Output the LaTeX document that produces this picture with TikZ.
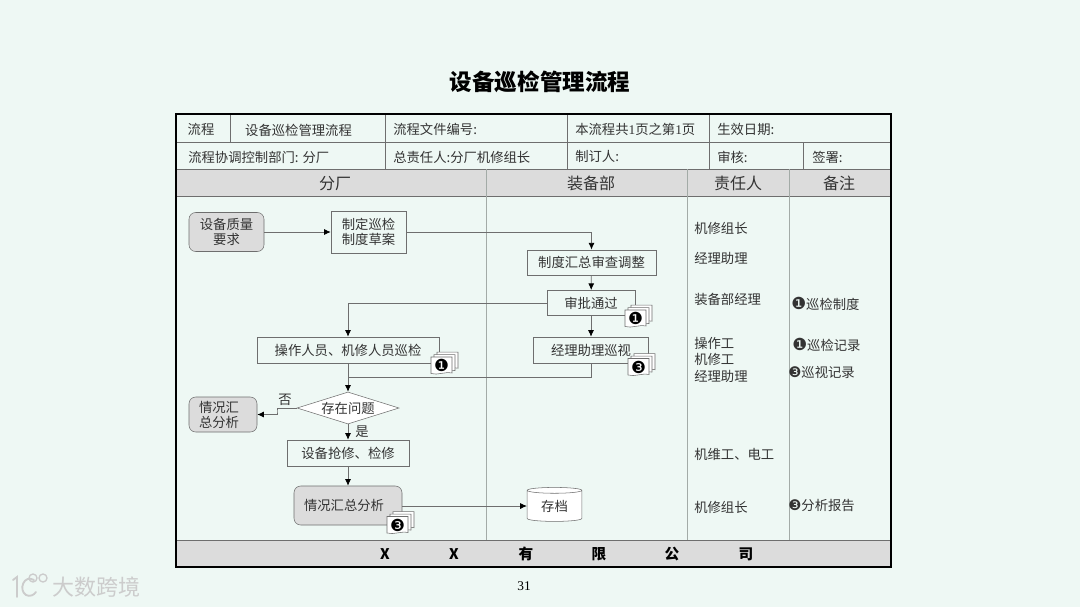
\documentclass[tikz,border=0pt]{standalone}
\usepackage{fontspec}
\usetikzlibrary{calc,positioning,arrows.meta,shapes.geometric}
\setmainfont{Noto Sans CJK SC}
\newfontfamily\latinfont{Liberation Serif}
\newfontfamily\dingfont{DejaVu Sans}
\definecolor{pagebg}{HTML}{EEF8F4}
\definecolor{bandgray}{HTML}{DCDCDC}
\definecolor{boxline}{HTML}{6E6E6E}
\definecolor{colline}{HTML}{A3ABA7}
\definecolor{inkgray}{HTML}{333333}
\newcommand{\one}{{\dingfont\fontsize{12.5}{12}\selectfont ❶}}
\newcommand{\three}{{\dingfont\fontsize{11}{12}\selectfont ❸}}
\newcommand{\bigthree}{{\dingfont\fontsize{12.5}{12}\selectfont ❸}}
% stack of three sheets, #1 name, #2 top left corner, #3 mark
\newcommand{\docstack}[3]{
    \begin{scope}[shift={#2}]
        \foreach \d in {6,3,0}{
            \draw[boxline,fill=white,xshift=0.75*\d pt,yshift=0.6*\d pt]
                (0,0) -- (0,16.5) .. controls (7,18.5) and (13,14.5) .. (21,16) -- (21,0) -- cycle;
        }
        \node[textonly,text=black] (#1) at (10.5,8.5) {#3};
    \end{scope}
}
\tikzset{
    textonly/.style={inner sep=0pt,text=inkgray,font=\fontsize{10}{11.5}\selectfont},
    lefttext/.style={textonly,anchor=west},
    headtext/.style={textonly,font=\fontsize{12}{13}\selectfont},
    foottext/.style={textonly,text=black,font=\fontsize{11}{13}\bfseries\selectfont},
    flowbox/.style={draw=boxline,fill=pagebg,rectangle,inner sep=0pt,align=center,text=inkgray,
        font=\fontsize{10}{11.2}\selectfont},
    roundbox/.style={flowbox,fill=bandgray,rounded corners=5pt},
    flowline/.style={draw=boxline,line width=0.6pt,-{Latex[length=5pt,width=4.5pt,black]}},
    plainline/.style={draw=boxline,line width=0.6pt},
    cellline/.style={draw=boxline,line width=0.6pt},
}
\begin{document}
\begin{tikzpicture}[x=0.75pt,y=-0.75pt]
    \useasboundingbox (0,0) rectangle (1080,607);
    \fill[pagebg] (0,0) rectangle (1080,607);
    \node[textonly,text=black,font=\fontsize{16.9}{20}\bfseries\selectfont] (title) at (540,81.5) {设备巡检管理流程};

    % bands and table
    \fill[bandgray] (176,169) rectangle (891,196);
    \fill[bandgray] (176,540) rectangle (891,567);
    \draw[cellline] (176,142.5) -- (891,142.5);
    \draw[cellline] (176,169) -- (891,169);
    \draw[cellline] (176,196) -- (891,196);
    \draw[cellline] (176,540) -- (891,540);
    \draw[cellline] (230,114) -- (230,142.5);
    \draw[cellline] (385,114) -- (385,169);
    \draw[cellline] (567.5,114) -- (567.5,169);
    \draw[cellline] (709,114) -- (709,169);
    \draw[cellline] (803,142.5) -- (803,169);
    \foreach \x in {486.5,687.5,789}{
        \draw[colline,line width=0.7pt] (\x,169) -- (\x,540);
    }
    \draw[black,line width=2.2pt] (176,114) rectangle (891,567);

    \node[textonly] (t1) at (201,129) {流程};
    \node[textonly] (t2) at (298.5,130) {设备巡检管理流程};
    \node[lefttext] (t3) at (393,129) {流程文件编号:};
    \node[lefttext] (t4) at (575,129.5) {本流程共{\latinfont 1}页之第{\latinfont 1}页};
    \node[lefttext] (t5) at (717,129) {生效日期:};
    \node[lefttext] (t6) at (188,157) {流程协调控制部门: 分厂};
    \node[lefttext] (t7) at (393,157.5) {总责任人:分厂机修组长};
    \node[lefttext] (t8) at (575,156) {制订人:};
    \node[lefttext] (t9) at (717,157.5) {审核:};
    \node[lefttext] (t10) at (812,157.5) {签署:};

    \node[headtext] (h1) at (335,183.5) {分厂};
    \node[headtext] (h2) at (591,183.5) {装备部};
    \node[headtext] (h3) at (738,183.5) {责任人};
    \node[headtext] (h4) at (839,183.5) {备注};

    % flow
    \node[roundbox,minimum width=56.25pt,minimum height=29.25pt] (need) at (226.5,232) {设备质量\\要求};
    \node[flowbox,minimum width=56.25pt,minimum height=31.5pt] (draft) at (368.5,232) {制定巡检\\制度草案};
    \node[flowbox,minimum width=96.75pt,minimum height=19pt] (review) at (591.5,262.5) {制度汇总审查调整};
    \node[flowbox,minimum width=66pt,minimum height=19pt] (approve) at (591,303) {审批通过};
    \node[flowbox,minimum width=86.25pt,minimum height=19.5pt] (assist) at (591,350) {经理助理巡视};
    \node[flowbox,minimum width=136.5pt,minimum height=19.5pt] (patrol) at (348,350) {操作人员、机修人员巡检};
    \node[flowbox,diamond,aspect=3.2,fill=white,minimum width=76.5pt,minimum height=24pt] (issue) at (348,408) {存在问题};
    \node[roundbox,minimum width=51pt,minimum height=26.25pt] (sumsmall) at (223,414.5) {情况汇\hspace*{6pt}\\总分析\hspace*{6pt}};
    \node[flowbox,minimum width=91.5pt,minimum height=19.5pt] (repair) at (348,453) {设备抢修、检修};
    \node[roundbox,minimum width=81pt,minimum height=29.25pt] (sumbig) at (348,505.5) {情况汇总分析\hspace*{6pt}};
    \node[flowbox,cylinder,shape border rotate=90,aspect=0.22,fill=white,minimum width=41pt,minimum height=25.5pt] (archive) at (554.5,506) {存档};
    \coordinate (merge) at (348,377);

    \draw[flowline] (need) -- (draft);
    \draw[flowline] (draft.east) -| (review.north);
    \draw[flowline] (review) -- (approve);
    \draw[flowline] (approve.west) -| (patrol.north);
    \draw[flowline] (approve) -- (assist);
    \draw[flowline] (patrol) -- (issue);
    \draw[plainline] (assist.south) |- (merge);
    \draw[flowline] (issue.west) -| ($(issue.west)!.5!(sumsmall.east)$) |- (sumsmall.east);
    \draw[flowline] (issue) -- (repair);
    \draw[flowline] (repair) -- (sumbig);
    \draw[flowline] (sumbig.east |- archive) -- (archive.west |- archive);

    \node[textonly] (no) at (285,399.5) {否};
    \node[textonly] (yes) at (362,431.5) {是};

    \docstack{markd}{(625,310)}{\one}
    \docstack{markp}{(431,357)}{\one}
    \docstack{marka}{(628,358.5)}{\bigthree}
    \docstack{markb}{(387,516.5)}{\bigthree}

    % roles
    \node[lefttext] (r1) at (694,228.5) {机修组长};
    \node[lefttext] (r2) at (694,258.5) {经理助理};
    \node[lefttext] (r3) at (694,299) {装备部经理};
    \node[lefttext] (r4) at (694,343.5) {操作工};
    \node[lefttext] (r5) at (694,359.5) {机修工};
    \node[lefttext] (r6) at (694,376) {经理助理};
    \node[lefttext] (r7) at (694,454) {机维工、电工};
    \node[lefttext] (r8) at (694,507.5) {机修组长};

    % notes
    \node[lefttext] (n1) at (791,304) {\one 巡检制度};
    \node[lefttext] (n2) at (792,344.5) {\one 巡检记录};
    \node[lefttext] (n3) at (788,372.5) {\three 巡视记录};
    \node[lefttext] (n4) at (788,505) {\three 分析报告};

    % footer
    \foreach \x/\c in {385/X,454/X,526/有,599/限,672/公,746/司}{
        \node[foottext] (f\x) at (\x,554) {\c};
    }
    \node[textonly,text=black] (page) at (524,586) {\latinfont 31};

    % watermark
    \draw[gray!40,line width=1.4pt,line cap=round] (13,580) -- (17,577) -- (17,597);
    \draw[gray!40,line width=1.4pt,line cap=round] (34,580) .. controls (24,574) and (18,590) .. (26,595) .. controls (30,597) and (34,595) .. (36,592);
    \draw[gray!40,line width=1pt] (33,578) circle (4);
    \draw[gray!40,line width=1pt] (43,578) circle (4);
    \node[textonly,text=gray!40,font=\fontsize{16.5}{18}\selectfont] (mark) at (96,587) {大数跨境};
\end{tikzpicture}
\end{document}
